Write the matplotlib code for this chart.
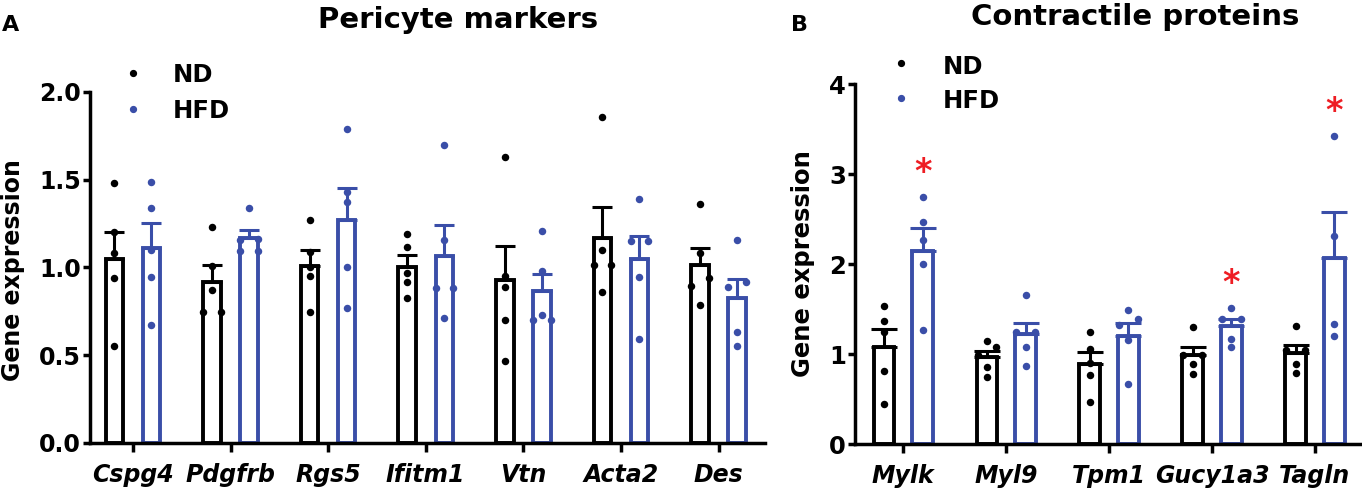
import numpy as np
import matplotlib.pyplot as plt
from matplotlib.ticker import FormatStrFormatter

# panel A: pericyte markers (individual animals, relative expression)
genes_a = ['Cspg4', 'Pdgfrb', 'Rgs5', 'Ifitm1', 'Vtn', 'Acta2', 'Des']
nd_a = [
    [1.48, 1.20, 1.08, 0.94, 0.55],
    [1.23, 1.01, 0.87, 0.745, 0.745],
    [1.27, 1.09, 1.00, 0.95, 0.745],
    [1.19, 1.115, 0.97, 0.915, 0.825],
    [1.63, 0.95, 0.89, 0.70, 0.47],
    [1.86, 1.10, 1.015, 1.015, 0.86],
    [1.36, 1.085, 0.94, 0.895, 0.785],
]
hfd_a = [
    [1.49, 1.34, 1.10, 0.945, 0.67],
    [1.34, 1.16, 1.155, 1.095, 1.095],
    [1.79, 1.43, 1.375, 1.00, 0.77],
    [1.70, 1.155, 0.885, 0.885, 0.715],
    [1.21, 0.98, 0.73, 0.70, 0.70],
    [1.39, 1.15, 1.15, 0.945, 0.595],
    [1.155, 0.915, 0.89, 0.63, 0.555],
]

# panel B: contractile proteins
genes_b = ['Mylk', 'Myl9', 'Tpm1', 'Gucy1a3', 'Tagln']
nd_b = [
    [1.54, 1.37, 1.25, 0.815, 0.445],
    [1.145, 1.075, 0.99, 0.86, 0.75],
    [1.25, 1.06, 0.90, 0.77, 0.465],
    [1.30, 0.995, 0.995, 0.885, 0.78],
    [1.315, 1.045, 1.045, 0.89, 0.785],
]
hfd_b = [
    [2.745, 2.465, 2.265, 2.00, 1.27],
    [1.655, 1.25, 1.25, 1.08, 0.87],
    [1.485, 1.39, 1.325, 1.155, 0.665],
    [1.51, 1.39, 1.39, 1.17, 1.075],
    [3.425, 2.315, 1.33, 1.20],
]
sig_b = [True, False, False, True, True]

groups = ['ND', 'HFD']
BLACK = '#000000'
BLUE = '#3a4ea8'
RED = '#ee1d23'

W, H = 1362, 490
plt.rcParams['font.family'] = 'DejaVu Sans'
plt.rcParams['font.weight'] = 'bold'

fig = plt.figure(figsize=(W / 100, H / 100), dpi=100)


def spread(vals, ppu, step=0.09, thr=8.0):
    # simple column scatter: points closer than thr pixels get spread sideways
    vals = np.asarray(vals, dtype=float)
    order = np.argsort(-vals, kind='stable')
    clusters, cur = [], [order[0]]
    for a, b in zip(order[:-1], order[1:]):
        if (vals[a] - vals[b]) * ppu < thr:
            cur.append(b)
        else:
            clusters.append(cur)
            cur = [b]
    clusters.append(cur)
    offs = np.zeros(len(vals))
    for c in clusters:
        n = len(c)
        slots = [0] if n % 2 else []
        for k in range(1, n // 2 + 1):
            slots += [k, -k]
        for idx, s in zip(c, slots):
            offs[idx] = s * step
    return offs


def draw_panel(ax, genes, nd, hfd, ylim, yticks, fmt, bar_w, off, cap, tick_fs):
    x = np.arange(len(genes))
    ax.set_ylim(*ylim)
    ppu = ax.get_position().height * H / (ylim[1] - ylim[0])
    for pts_list, sign, color in ((nd, -1, BLACK), (hfd, 1, BLUE)):
        means = np.array([np.mean(p) for p in pts_list])
        sems = np.array([np.std(p, ddof=1) / np.sqrt(len(p)) for p in pts_list])
        xs = x + sign * off
        ax.bar(xs, means, bar_w, color='white', edgecolor=color,
               linewidth=2.8, zorder=1)
        ax.errorbar(xs, means, yerr=[np.zeros_like(sems), sems], fmt='none',
                    ecolor=color, elinewidth=2.2, capsize=cap, capthick=2.2,
                    zorder=2)
        for xi, p in zip(xs, pts_list):
            p = np.asarray(p)
            ax.scatter(xi + spread(p, ppu), p, s=29, color=color,
                       linewidths=0, zorder=3)

    ax.set_yticks(yticks)
    ax.yaxis.set_major_formatter(FormatStrFormatter(fmt))
    ax.set_xticks(x, genes, fontstyle='italic', fontweight='bold')
    ax.spines[['top', 'right']].set_visible(False)
    for s in ('left', 'bottom'):
        ax.spines[s].set_linewidth(2.5)
    ax.tick_params(axis='y', width=2.5, length=5, pad=1.5, labelsize=tick_fs)
    ax.tick_params(axis='x', width=2.5, length=6.5, pad=8, labelsize=17)
    return x


def legend(ax, dot_x, text_x, rows, fs):
    for (lab, color), (dot_y, base_y) in zip(zip(groups, (BLACK, BLUE)), rows):
        ax.plot([dot_x / W], [1 - dot_y / H], 'o', ms=4.2, color=color,
                transform=fig.transFigure, clip_on=False)
        fig.text(text_x / W, 1 - base_y / H, lab, ha='left', va='baseline',
                 fontsize=fs, fontweight='bold')


# Panel A
ax_a = fig.add_axes([90 / W, 1 - 443 / H, 675 / W, 351 / H])
ax_a.set_xlim(-0.44, 6.476)
draw_panel(ax_a, genes_a, nd_a, hfd_a, (0, 2.0), np.arange(0, 2.01, 0.5),
           '%.1f', 0.18, 0.19, 7.5, 17)
legend(ax_a, 133, 173, [(73, 82.5), (109, 118.5)], 17.5)

# Panel B
ax_b = fig.add_axes([855 / W, 1 - 444 / H, 507 / W, 359.7 / H])
ax_b.set_xlim(-0.469, 4.458)
xb = draw_panel(ax_b, genes_b, nd_b, hfd_b, (0, 4), np.arange(0, 5, 1),
                '%d', 0.2, 0.188, 9.5, 17.5)
legend(ax_b, 901, 943, [(63.5, 74), (97.7, 108)], 17.5)

for i, s in enumerate(sig_b):
    if s:
        ax_b.text(xb[i] + 0.188, max(hfd_b[i]) + 0.27, '*', color=RED,
                  fontsize=24, ha='center', va='center', fontweight='bold')

# titles, axis labels, panel letters
fig.text(458 / W, 1 - 28.5 / H, 'Pericyte markers', ha='center', va='baseline',
         fontsize=21, fontweight='bold')
fig.text(1135 / W, 1 - 25 / H, 'Contractile proteins', ha='center',
         va='baseline', fontsize=21, fontweight='bold')
fig.text(13 / W, 1 - 270 / H, 'Gene expression', rotation=90, ha='center',
         va='center', fontsize=17, fontweight='bold')
fig.text(803 / W, 1 - 264 / H, 'Gene expression', rotation=90, ha='center',
         va='center', fontsize=17.5, fontweight='bold')
fig.text(2 / W, 1 - 31 / H, 'A', ha='left', va='baseline', fontsize=16,
         fontweight='bold')
fig.text(791 / W, 1 - 31 / H, 'B', ha='left', va='baseline', fontsize=16,
         fontweight='bold')

fig.savefig('out.png', dpi=100)
